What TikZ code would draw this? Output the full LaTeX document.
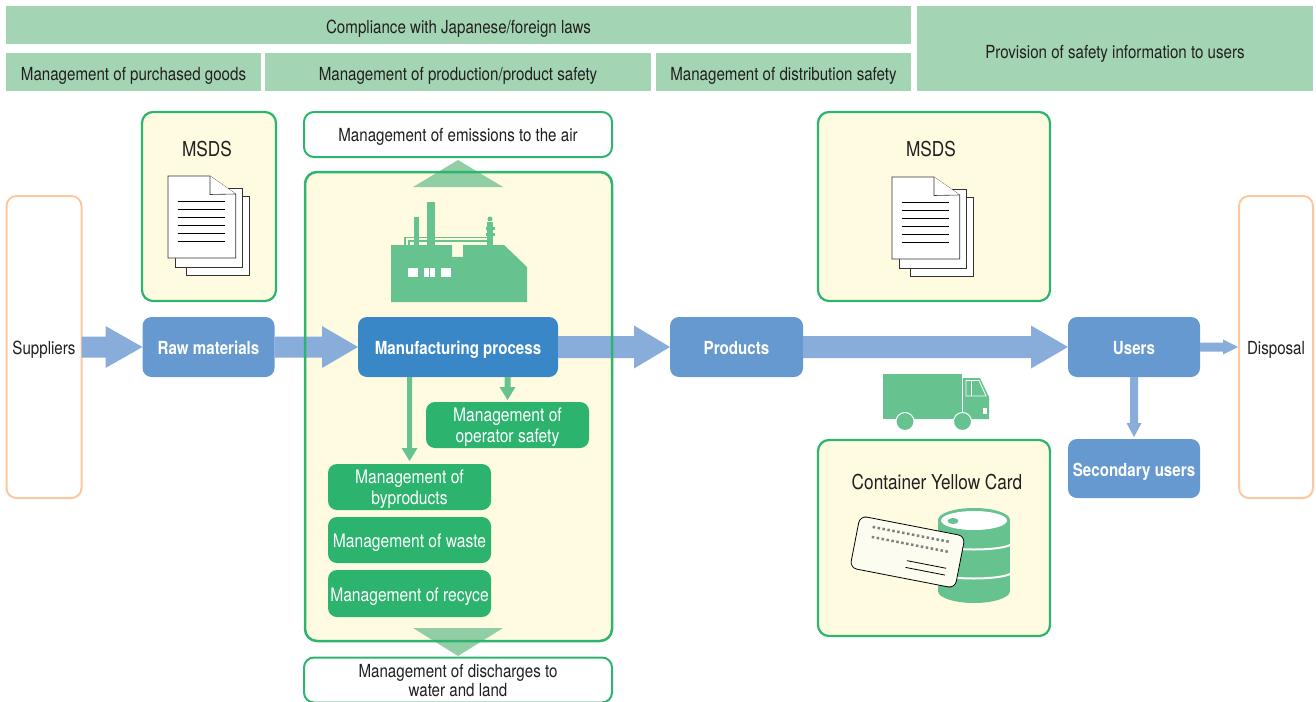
\documentclass[tikz,border=0pt]{standalone}
\usepackage{fontspec}
\setmainfont{TeX Gyre Heros}[FakeStretch=0.84]
\usetikzlibrary{calc}
\definecolor{barGreen}{RGB}{163,213,181}
\definecolor{lineGreen}{RGB}{45,180,110}
\definecolor{boxGreen}{RGB}{44,180,111}
\definecolor{iconGreen}{RGB}{102,194,142}
\definecolor{triGreen}{RGB}{145,206,165}
\definecolor{paleYellow}{RGB}{254,251,224}
\definecolor{boxBlue}{RGB}{102,153,208}
\definecolor{deepBlue}{RGB}{58,135,200}
\definecolor{flowBlue}{RGB}{136,173,219}
\definecolor{peach}{RGB}{251,200,160}
\definecolor{inkGray}{RGB}{35,31,32}
\definecolor{cardCream}{RGB}{253,252,240}
\newcommand{\bodyFont}{\fontsize{18}{19}\selectfont}
\newcommand{\headFont}{\fontsize{20.5}{22}\selectfont}
\newcommand{\boxFont}{\fontsize{18.6}{21}\selectfont}
%% Horizontal block arrow: from, to, shaft half, head half, head length.
\newcommand{\flowArrow}[5]{%%
  \fill[arrowStyle] let \p1=(#1), \p2=(#2) in
    (\x1,{\y1+#3}) -- ({\x2-#5},{\y1+#3}) -- ({\x2-#5},{\y1+#4})
    -- (\x2,\y1) -- ({\x2-#5},{\y1-#4}) -- ({\x2-#5},{\y1-#3})
    -- (\x1,{\y1-#3}) -- cycle;
}
%% Downward block arrow: from, to, shaft half, head half, head length, style.
\newcommand{\dropArrow}[6]{%%
  \fill[#6] let \p1=(#1), \p2=(#2) in
    ({\x2-#3},\y1) -- ({\x2-#3},{\y2+#5}) -- ({\x2-#4},{\y2+#5})
    -- (\x2,\y2) -- ({\x2+#4},{\y2+#5}) -- ({\x2+#3},{\y2+#5})
    -- ({\x2+#3},\y1) -- cycle;
}
%% Stack of three data sheets, front sheet top left at (#1,#2).
\newcommand{\msdsSheets}[2]{%%
  \begin{scope}[shift={(#1,#2)}]
    \draw[sheetStyle] (18.7,20.7) rectangle (81.7,99.7);
    \draw[sheetStyle] (7.7,12.7) rectangle (74.7,91.7);
    \draw[sheetStyle] (0,0) -- (42,0) -- (67.7,18) -- (67.7,82) -- (0,82) -- cycle;
    \draw[sheetStyle] (42,0) -- (42,18.5) -- (67.7,18);
    \foreach \ly in {25,33,...,65}{
      \draw[black, line width=0.8pt] (9.7,\ly) -- (57,\ly);
    };
  \end{scope}
}

\begin{document}
\begin{tikzpicture}[x=1pt,y=-1pt,%%
  barStyle/.style={rectangle,fill=barGreen,inner sep=0pt,outer sep=0pt,
    text=inkGray,font=\bodyFont,text height=16.5pt,text depth=0pt,minimum height=38pt},%%
  endStyle/.style={rectangle,draw=peach,line width=2pt,rounded corners=10pt,
    fill=white,inner sep=0pt,outer sep=0pt,text=inkGray,font=\bodyFont,
    text height=15pt,text depth=0pt,minimum width=75pt,minimum height=302pt},%%
  blueStyle/.style={rectangle,fill=boxBlue,rounded corners=9pt,inner sep=0pt,
    outer sep=0pt,text=white,font=\bodyFont\bfseries,text height=15pt,text depth=0pt,
    minimum height=60pt},%%
  greenStyle/.style={rectangle,fill=boxGreen,rounded corners=9pt,inner sep=0pt,
    outer sep=0pt,text=white,font=\boxFont,align=center,text depth=0pt,
    minimum width=163pt,minimum height=46pt},%%
  outlineStyle/.style={rectangle,draw=lineGreen,line width=2pt,fill=white,
    rounded corners=10pt,inner sep=0pt,outer sep=0pt,text=inkGray,font=\bodyFont,
    align=center,text depth=0pt,minimum width=308pt,minimum height=45pt},%%
  infoStyle/.style={rectangle,draw=lineGreen,line width=2.2pt,fill=paleYellow,
    rounded corners=11pt,inner sep=0pt,outer sep=0pt},%%
  headStyle/.style={text=inkGray,font=\headFont,text depth=0pt,inner sep=0pt},%%
  arrowStyle/.style={fill=flowBlue},%%
  iconStyle/.style={fill=iconGreen},%%
  triStyle/.style={fill=triGreen},%%
  sheetStyle/.style={draw=black!80,fill=white,line width=0.6pt,line join=miter}
]
\useasboundingbox (0,0) rectangle (1316,701);
%%
%% Regulation bands along the top.
\node[barStyle, minimum width=905pt] (laws) at (458.5,25) {Compliance with Japanese/foreign laws};
\node[barStyle, minimum width=255pt] (purchase) at (133.5,72) {Management of purchased goods};
\node[barStyle, minimum width=386pt] (production) at (458,72) {Management of production/product safety};
\node[barStyle, minimum width=255pt] (distribution) at (783.5,72) {Management of distribution safety};
\node[barStyle, minimum width=396pt, minimum height=85pt, text height=21pt] (provision) at (1115,48.5) {Provision of safety information to users};
%%
%% Plant panel and the data sheet boxes.
\node[infoStyle, draw=none, minimum width=307pt, minimum height=469pt] (plant) at (458.5,406.5) {};
\node[infoStyle, minimum width=134pt, minimum height=189pt] (sheetsA) at (209,206.5) {};
\node[infoStyle, minimum width=232pt, minimum height=189pt] (sheetsB) at (934,206.5) {};
\node[infoStyle, minimum width=232pt, minimum height=196pt] (cardBox) at (934,538) {};
\node[headStyle] (msdsA) at (207,149) {MSDS};
\node[headStyle] (msdsB) at (931,149) {MSDS};
\node[headStyle] (cardLabel) at (937,482) {Container Yellow Card};
\msdsSheets{168}{176}
\msdsSheets{892}{177}
%%
%% Releases from the plant.
\node[outlineStyle] (air) at (458,134.5) {Management of emissions to the air};
\node[outlineStyle] (water) at (458,680) {Management of discharges to\\water and land};
\fill[triStyle] (413,187) -- (458,160) -- (503,187) -- cycle;
\fill[triStyle] (413,628) -- (458,656) -- (503,628) -- cycle;
%%
%% Factory.
\fill[iconStyle] (391,245) -- (452,245) -- (452,257) -- (463,257) -- (463,245)
  -- (504,245) -- (527,267) -- (527,302) -- (391,302) -- cycle;
\fill[iconStyle] (414,217) rectangle (419,245);
\fill[iconStyle] (427,202) rectangle (435,245);
\fill[iconStyle] (487,222) rectangle (493,245);
\fill[iconStyle] (490,219) circle (2.5);
\fill[iconStyle] (485.5,227) rectangle (494.5,230);
\fill[iconStyle] (485.5,233) rectangle (494.5,236);
\draw[iconGreen, line width=1.2pt] (405,245) |- (487,237.5);
\draw[iconGreen, line width=1.2pt] (409,245) |- (487,241);
\fill[white] (408,268) rectangle (418,277);
\fill[white] (424,268) rectangle (435,277);
\draw[iconGreen, line width=1pt] (429.5,268) -- (429.5,277);
\fill[white] (441,268) rectangle (451,277);
%%
%% Main flow.
\node[endStyle] (suppliers) at (44,347) {Suppliers};
\node[endStyle, minimum width=74pt] (disposal) at (1276,347) {Disposal};
\node[blueStyle, minimum width=132pt] (raw) at (208.5,347) {Raw materials};
\node[blueStyle, fill=deepBlue, minimum width=200pt] (manuf) at (458,347) {Manufacturing process};
\node[blueStyle, minimum width=133pt] (products) at (736.5,347) {Products};
\node[blueStyle, minimum width=132pt] (users) at (1134,347) {Users};
\node[blueStyle, minimum width=132pt, minimum height=59pt] (secondary) at (1134,468.5) {Secondary users};
\flowArrow{suppliers.east}{raw.west}{10.5pt}{21pt}{37pt}
\flowArrow{raw.east}{manuf.west}{10.5pt}{21pt}{36pt}
\flowArrow{manuf.east}{products.west}{11pt}{21.5pt}{36pt}
\flowArrow{products.east}{users.west}{11pt}{21.5pt}{37pt}
\flowArrow{users.east}{[xshift=-1pt]disposal.west}{4.5pt}{7.5pt}{15pt}
\dropArrow{users.south}{[yshift=2pt]secondary.north}{4pt}{7.5pt}{14pt}{arrowStyle}
\draw[lineGreen, line width=2.5pt, rounded corners=12pt] (plant.north west) rectangle (plant.south east);
%%
%% Controls inside the plant.
\node[greenStyle] (operator) at (507.5,425) {Management of\\operator safety};
\node[greenStyle] (byproducts) at (409.5,487) {Management of\\byproducts};
\node[greenStyle, text height=15pt] (waste) at (409.5,540) {Management of waste};
\node[greenStyle, text height=15pt, minimum height=47pt] (recycle) at (409.5,593.5) {Management of recyce};
\dropArrow{manuf.south}{[yshift=2pt]operator.north}{3pt}{8pt}{13pt}{iconStyle}
\dropArrow{manuf.south}{[yshift=3pt]byproducts.north}{2.5pt}{8pt}{13pt}{iconStyle}
%%
%% Delivery truck.
\fill[iconStyle] (883,374) rectangle (962,419);
\fill[iconStyle] (963,378) -- (980,378) -- (989,397) -- (989,419) -- (963,419) -- cycle;
\draw[white, line width=0.8pt] (966,380.5) -- (979,380.5) -- (986,396) -- (966,396) -- cycle;
\draw[white, line width=0.8pt] (971,380.5) -- (971,396);
\fill[white] (983,408) rectangle (987,414);
\filldraw[iconStyle, draw=white, line width=1pt] (905,421.5) circle (9);
\filldraw[iconStyle, draw=white, line width=1pt] (962.5,421.5) circle (9);
%%
%% Drum with its yellow card.
\fill[iconStyle] (938,520) rectangle (1010,591);
\fill[iconStyle] (974,591) ellipse (36 and 12);
\fill[iconStyle] (974,520) ellipse (36 and 12);
\fill[white] (974,520.5) ellipse (33 and 9.5);
\fill[iconStyle] (953,521) ellipse (5.5 and 3);
\draw[white, line width=2pt] (938,545) .. controls (950,551) and (998,551) .. (1010,545);
\draw[white, line width=2pt] (938,574) .. controls (950,580) and (998,580) .. (1010,574);
\begin{scope}[shift={(907.5,552)}, rotate=-11]
  \draw[fill=cardCream, draw=black, line width=0.8pt, rounded corners=7pt] (-53.5,-26.5) rectangle (53.5,26.5);
  \draw[gray, line width=2.5pt, dash pattern=on 2.5pt off 2.5pt] (-39,-18) -- (40,-18);
  \draw[gray, line width=2.5pt, dash pattern=on 2.5pt off 2.5pt] (-38,-8) -- (40,-8);
  \draw[black, line width=0.8pt] (1,8.6) -- (41,8.6);
  \draw[black, line width=0.8pt] (1,15.5) -- (41,15.5);
\end{scope}
\end{tikzpicture}
\end{document}
